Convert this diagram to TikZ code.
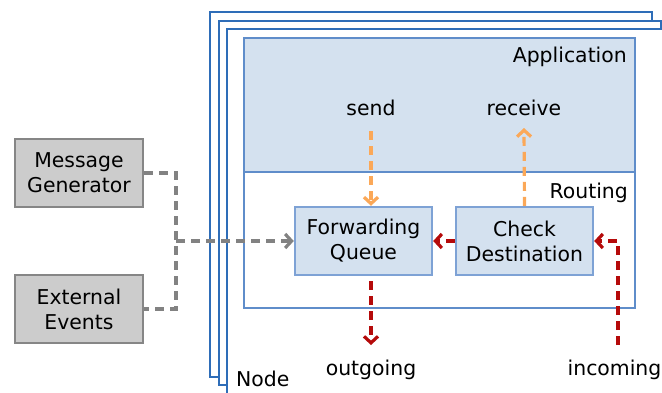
\documentclass[tikz,border=0pt]{standalone}
\usepackage{fontspec}
\setmainfont{DejaVu Sans}
\usetikzlibrary{arrows.meta}

\definecolor{nodeblue}{HTML}{2E6DB8}
\definecolor{layerline}{HTML}{5F8DCA}
\definecolor{boxline}{HTML}{7EA2D5}
\definecolor{layerfill}{HTML}{D4E1EF}
\definecolor{srcfill}{HTML}{CCCCCC}
\definecolor{srcline}{HTML}{868686}
\definecolor{appflow}{HTML}{FBA858}
\definecolor{netflow}{HTML}{B50A0A}
\definecolor{inflow}{HTML}{828282}

\tikzset{
  lbl/.style={font=\fontsize{20.4}{25}\selectfont, inner sep=0pt, text=black},
  frame/.style={draw=nodeblue, line width=2.6pt, fill=white},
  layer/.style={draw=layerline, line width=2.2pt},
  procbox/.style={draw=boxline, line width=2.4pt, fill=layerfill},
  srcbox/.style={draw=srcline, line width=2.6pt, fill=srcfill},
  flow/.style={line width=3.2pt, dash pattern=on 9pt off 6pt,
    -{Straight Barb[length=6.5pt,width=14pt,line width=3.2pt]}},
  plain/.style={line width=3.2pt, dash pattern=on 9pt off 6pt},
}

\begin{document}
\begin{tikzpicture}[x=1pt,y=-1pt]
\useasboundingbox (0,0) rectangle (662,392);
\clip (0,0) rectangle (662,392);

% stacked node frames
\draw[frame] (210,12) rectangle (652,377);
\draw[frame] (219,21) rectangle (661,385);
\draw[frame] (227,29) rectangle (675,405);
\node[lbl, anchor=west] (nodelbl) at (236,379) {Node};

% application and routing layers
\draw[layer, fill=layerfill] (244,38) rectangle (635,172);
\draw[layer, fill=white] (244,172) rectangle (635,308);
\node[lbl, anchor=east] (app) at (627,57) {Application};
\node[lbl, anchor=east] (routing) at (628,193) {Routing};
\node[lbl] (send) at (371,108) {send};
\node[lbl] (receive) at (524,108) {receive};

% routing components
\node[procbox, minimum width=137pt, minimum height=68pt, align=center,
      font=\fontsize{20.4}{25}\selectfont, inner sep=0pt]
  (fq) at (363.5,241) {Forwarding\\Queue};
\node[procbox, minimum width=137pt, minimum height=68pt, align=center,
      font=\fontsize{20.4}{25}\selectfont, inner sep=0pt]
  (cd) at (524.5,241) {Check\\Destination};

% message sources
\node[srcbox, minimum width=128pt, minimum height=68pt, align=center,
      font=\fontsize{20.4}{25}\selectfont, inner sep=0pt]
  (mg) at (79,173) {Message\\Generator};
\node[srcbox, minimum width=128pt, minimum height=68pt, align=center,
      font=\fontsize{20.4}{25}\selectfont, inner sep=0pt]
  (ee) at (79,309) {External\\Events};

\coordinate (j1) at (176,173);
\coordinate (j2) at (176,309);
\coordinate (jm) at (176,241);
\coordinate (sendend) at (371,131);
\coordinate (recvend) at (524,128);
\coordinate (outbeg) at (371,281);
\coordinate (outend) at (371,345);
\coordinate (inbeg) at (618,345);
\coordinate (inturn) at (618,241);

\node[lbl] (outgoing) at (371,370) {outgoing};
\node[lbl] (incoming) at (614.5,370) {incoming};

% external input
\draw[plain, draw=inflow] (mg.east) -- (j1) -- (j2) -- (ee.east);
\draw[flow, draw=inflow] (jm) -- (fq.west);

% application traffic
\draw[flow, draw=appflow] (sendend) -- (sendend |- fq.north);
\draw[flow, draw=appflow] (cd.north) -- (recvend);

% network traffic
\draw[flow, draw=netflow] (cd.west) -- (fq.east);
\draw[flow, draw=netflow] (inbeg) -- (inturn) -- (cd.east);
\draw[flow, draw=netflow] (outbeg) -- (outend);
\end{tikzpicture}
\end{document}
